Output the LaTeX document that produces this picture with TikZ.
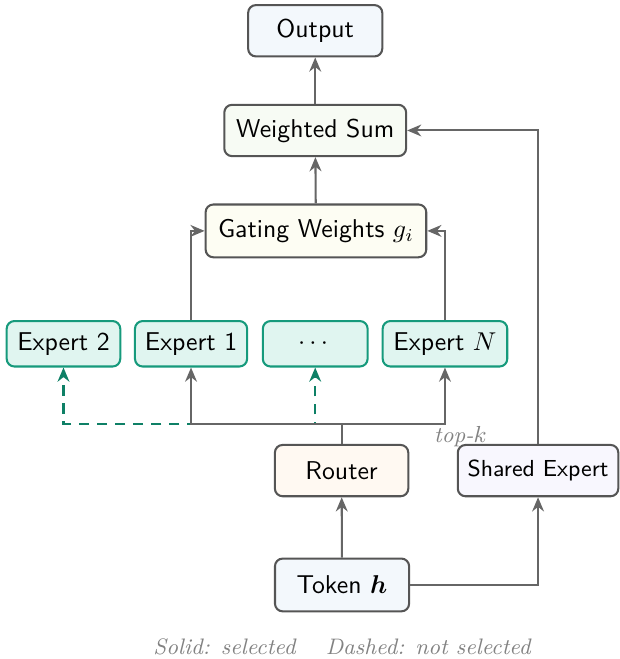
\documentclass[tikz,border=0pt]{standalone}
\usepackage{amsmath,amssymb}
\usepackage{xcolor}
\usepackage{tikz}
\usetikzlibrary{positioning,arrows.meta}
\definecolor{linegray}{RGB}{102,102,102}
\definecolor{boxedge}{RGB}{85,85,85}
\definecolor{tealedge}{RGB}{22,154,124}
\definecolor{tealfill}{RGB}{224,245,240}
\definecolor{dashgreen}{RGB}{14,128,102}
\definecolor{bluefill}{RGB}{243,248,252}
\definecolor{greenfill}{RGB}{247,251,244}
\definecolor{yellowfill}{RGB}{253,253,243}
\definecolor{orangefill}{RGB}{255,249,242}
\definecolor{lilacfill}{RGB}{248,247,254}
\definecolor{notegray}{RGB}{130,130,130}

\begin{document}
\begin{tikzpicture}[
  box/.style={draw=boxedge, line width=0.8pt, rounded corners=3pt, font=\sffamily,
    minimum height=0.70cm, inner xsep=2pt},
  expbox/.style={box, draw=tealedge, fill=tealfill, minimum height=0.62cm},
  arr/.style={-{Stealth[length=5.5pt,width=4.6pt]}, linegray, line width=0.8pt},
  dasharr/.style={-{Stealth[length=5.5pt,width=4.6pt]}, dashgreen, line width=0.8pt, dash pattern=on 4pt off 3pt},
  note/.style={font=\fontsize{8.7}{10}\selectfont\itshape, text=notegray},
]
  \useasboundingbox (0,0) rectangle (8.445,8.99);

  % Main column
  \node[box, fill=bluefill, minimum width=1.83cm, minimum height=0.72cm] (tok) at (4.666,1.01) {Token $\boldsymbol{h}$};
  \node[box, fill=orangefill, minimum width=1.82cm] (rtr) at (4.66,2.57) {Router};
  \node[box, fill=lilacfill, minimum width=2.19cm, font=\sffamily\small] (shr) at (7.34,2.57) {Shared Expert};

  % Experts
  \node[expbox, minimum width=1.55cm] (e2) at (0.866,4.30) {Expert 2};
  \node[expbox, minimum width=1.53cm] (e1) at (2.606,4.30) {Expert 1};
  \node[expbox, minimum width=1.43cm] (dots) at (4.30,4.30) {$\cdots$};
  \node[expbox, minimum width=1.70cm] (eN) at (6.07,4.30) {Expert $N$};

  % Combination
  \node[box, fill=yellowfill, minimum width=3.01cm, minimum height=0.72cm] (gate) at (4.31,5.84) {Gating Weights $g_i$};
  \node[box, fill=greenfill, minimum width=2.48cm] (wsum) at (4.30,7.21) {Weighted Sum};
  \node[box, fill=bluefill, minimum width=1.83cm] (out) at (4.30,8.57) {Output};

  % Routing
  \coordinate (jn) at (4.66,3.206);
  \draw[dasharr] (jn) -| (e2.south);
  \draw[dasharr] (jn) -| (dots.south);
  \draw[linegray, line width=0.8pt] (rtr.north) -- (jn);
  \draw[arr] (jn) -| (e1.south);
  \draw[arr] (jn) -| (eN.south);
  \node[note] (topk) at (6.28,3.04) {top-$k$};

  % Connectors
  \draw[arr] (tok) -- (rtr);
  \draw[arr] (tok.east) -| (shr.south);
  \draw[arr] (shr.north) |- (wsum.east);
  \draw[arr] (e1.north) |- (gate.west);
  \draw[arr] (eN.north) |- (gate.east);
  \draw[arr] (gate) -- (wsum);
  \draw[arr] (wsum) -- (out);

  % Legend
  \node[note] (leg) at (4.666,0.164) {Solid: selected\hspace{1.35em}Dashed: not selected};
\end{tikzpicture}
\end{document}
